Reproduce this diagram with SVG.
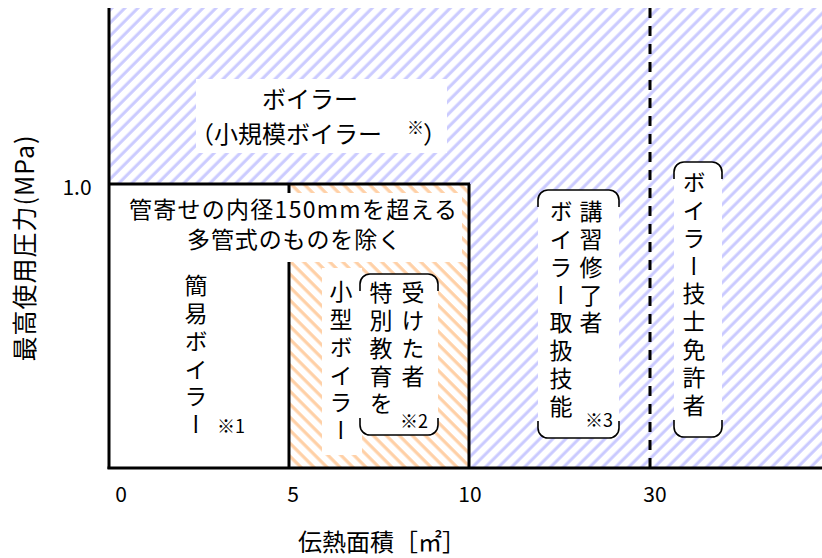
<svg xmlns="http://www.w3.org/2000/svg" width="822" height="558" viewBox="0 0 822 558">
  <defs>
    <pattern id="hatchBlue" patternUnits="userSpaceOnUse" width="9.2" height="9.2" patternTransform="rotate(45)">
      <rect width="9.2" height="9.2" fill="#ffffff"/>
      <line x1="2" y1="0" x2="2" y2="9.2" stroke="#cacaff" stroke-width="3"/>
    </pattern>
    <pattern id="hatchOrange" patternUnits="userSpaceOnUse" width="9.2" height="9.2" patternTransform="rotate(-45)">
      <rect width="9.2" height="9.2" fill="#ffffff"/>
      <line x1="2" y1="0" x2="2" y2="9.2" stroke="#ffd0a6" stroke-width="3.2"/>
    </pattern>
  </defs>
  <style>
    text { font-family: "Noto Sans CJK JP", "Noto Sans", sans-serif; fill: #000; }
    .t { font-size: 24px; }
    .n { font-size: 23px; }
    .v { font-size: 23px; writing-mode: vertical-rl; letter-spacing: 4.8px; }
    .note { font-size: 18px; }
    .ax { font-size: 21px; }
    .bracket { fill: none; stroke: #000; stroke-width: 1.6; }
    .wb { fill: #ffffff; }
  </style>
  <rect width="822" height="558" fill="#ffffff"/>

  <g id="region-boiler">
    <rect x="109" y="8" width="713" height="460" fill="url(#hatchBlue)"/>
    <rect class="wb" x="196" y="79" width="251" height="74"/>
    <text class="t" x="310" y="108" text-anchor="middle">ボイラー</text>
    <text class="t" x="190" y="143">（小規模ボイラー<tspan x="407" dy="-9" font-size="17">※</tspan><tspan x="423" dy="9">）</tspan></text>
  </g>

  <g id="region-excluded">
    <rect class="wb" x="109" y="184" width="360" height="284"/>
  </g>

  <g id="region-small-boiler">
    <rect x="289" y="184" width="180" height="284" fill="url(#hatchOrange)"/>
    <rect class="wb" x="322" y="268" width="40" height="187"/>
    <text class="v" x="341" y="280">小型ボイラー</text>
  </g>

  <g id="note-excluded">
    <rect class="wb" x="120" y="193" width="342" height="69"/>
    <text class="n" x="293" y="218" text-anchor="middle" textLength="328">管寄せの内径150mmを超える</text>
    <text class="n" x="294" y="248" text-anchor="middle" textLength="214">多管式のものを除く</text>
  </g>

  <g id="region-simple-boiler">
    <text class="v" x="196" y="274">簡易ボイラー</text>
    <text class="note" x="217" y="433">※1</text>
  </g>

  <g id="label-special-education">
    <rect class="wb" x="360" y="274" width="78" height="161" rx="10"/>
    <path class="bracket" d="M360,291 V284 A10,10 0 0 1 370,274 H428 A10,10 0 0 1 438,284 V291 M360,418 V425 A10,10 0 0 0 370,435 H428 A10,10 0 0 0 438,425 V418"/>
    <text class="v" x="413" y="281">受けた者</text>
    <text class="v" x="381" y="281">特別教育を</text>
    <text class="note" x="400" y="428">※2</text>
  </g>

  <g id="label-course">
    <rect class="wb" x="538" y="190" width="81" height="248" rx="10"/>
    <path class="bracket" d="M538,207 V200 A10,10 0 0 1 548,190 H609 A10,10 0 0 1 619,200 V207 M538,421 V428 A10,10 0 0 0 548,438 H609 A10,10 0 0 0 619,428 V421"/>
    <text class="v" x="591" y="200">講習修了者</text>
    <text class="v" x="561" y="200">ボイラー取扱技能</text>
    <text class="note" x="585" y="427">※3</text>
  </g>

  <g id="label-license">
    <rect class="wb" x="674" y="162" width="48" height="275" rx="10"/>
    <path class="bracket" d="M674,179 V172 A10,10 0 0 1 684,162 H712 A10,10 0 0 1 722,172 V179 M674,420 V427 A10,10 0 0 0 684,437 H712 A10,10 0 0 0 722,427 V420"/>
    <text class="v" x="694" y="171">ボイラー技士免許者</text>
  </g>

  <g id="connectors">
    <line x1="109" y1="184" x2="470" y2="184" stroke="#000" stroke-width="3"/>
    <line x1="289" y1="184" x2="289" y2="193" stroke="#000" stroke-width="3"/>
    <line x1="289" y1="262" x2="289" y2="468" stroke="#000" stroke-width="3"/>
    <line x1="469" y1="184" x2="469" y2="468" stroke="#000" stroke-width="3"/>
    <line x1="650" y1="8" x2="650" y2="468" stroke="#000" stroke-width="3" stroke-dasharray="10,8"/>
    <line x1="109" y1="8" x2="109" y2="469" stroke="#000" stroke-width="3"/>
    <line x1="107.5" y1="468" x2="822" y2="468" stroke="#000" stroke-width="3"/>
  </g>

  <g id="axis-labels">
    <text class="ax" x="77" y="195" text-anchor="middle">1.0</text>
    <text class="ax" x="121" y="502" text-anchor="middle">0</text>
    <text class="ax" x="293" y="502" text-anchor="middle">5</text>
    <text class="ax" x="470" y="502" text-anchor="middle">10</text>
    <text class="ax" x="655" y="502" text-anchor="middle">30</text>
    <text class="t" x="382" y="551" text-anchor="middle">伝熱面積［㎡］</text>
    <text class="t" transform="translate(34,248) rotate(-90)" text-anchor="middle" style="font-size:25px;letter-spacing:1px">最高使用圧力(MPa)</text>
  </g>
</svg>
